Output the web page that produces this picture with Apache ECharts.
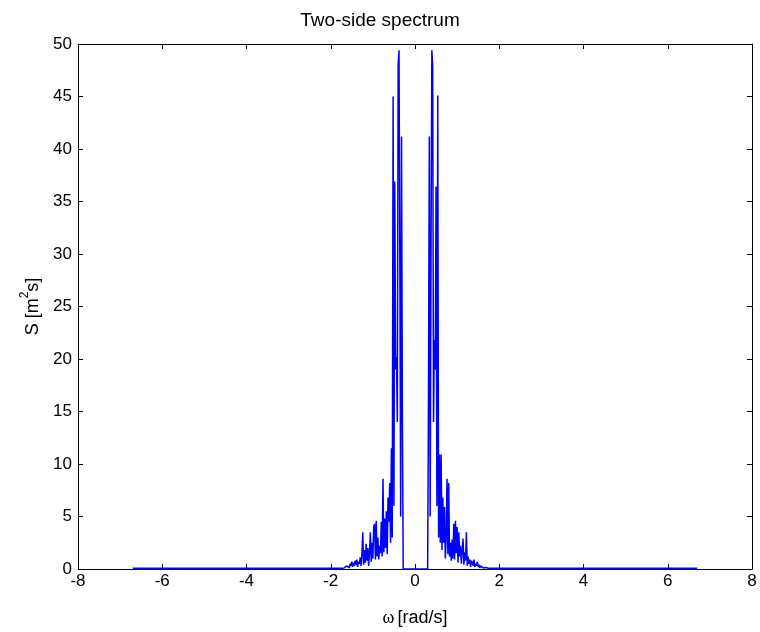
<!DOCTYPE html>
<html>
<head>
<meta charset="utf-8">
<script src="https://cdn.jsdelivr.net/npm/echarts@6/dist/echarts.min.js"></script>
<style>
  html, body { margin: 0; padding: 0; background: #fff; }
  #main { width: 760px; height: 632px; }
</style>
</head>
<body>
<div id="main"></div>
<script>
// flat tails of the spectrum (rad/s, m^2 s)
var tailOmega = [-6.7, -1.74, 1.74, 6.7];
var tailVals = [0.08, 0.08, 0.08, 0.08];

// negative side, omega = -1.70 ... -0.30 step 0.02
var negStart = -1.70;
var step = 0.02;
var negVals = [
    0.05, 0.1, 0.2, 0.1, 0.3, 0.2, 0.4, 0.1, 0.5, 0.3,
    0.7, 0.2, 0.6, 0.3, 0.8, 0.4, 0.9, 0.2, 0.7, 0.5,
    1.1, 0.3, 1.4, 3.5, 0.4, 1.8, 0.6, 2.4, 0.8, 2.0,
    0.3, 1.6, 3.5, 0.7, 2.5, 1.0, 4.0, 4.3, 0.9, 4.6,
    1.2, 3.0, 0.9, 2.2, 1.5, 4.5, 1.2, 8.6, 1.6, 4.8,
    2.0, 5.5, 1.4, 6.8, 4.5, 8.2, 2.5, 11.5, 3.0, 45.0,
    6.0, 36.9, 19.0, 20.2, 14.0, 48.0, 49.4, 30.0, 5.0, 41.2,
    15.0, 0
];

// positive side, omega = 0.30 ... 1.70 step 0.02
var posStart = 0.30;
var posVals = [
    0, 16.0, 41.2, 5.0, 30.0, 49.4, 47.9, 14.0, 21.8, 19.0,
    36.4, 6.0, 45.1, 3.0, 10.9, 2.5, 10.9, 1.8, 6.8, 2.5,
    5.9, 1.0, 3.0, 8.6, 1.4, 8.2, 1.2, 2.5, 0.8, 2.8,
    1.0, 4.3, 0.9, 4.6, 1.5, 4.0, 0.6, 3.5, 1.2, 2.2,
    0.5, 1.8, 2.9, 0.4, 1.6, 0.8, 3.5, 0.3, 1.2, 0.5,
    0.9, 0.2, 0.8, 0.6, 0.3, 0.9, 0.2, 0.5, 0.3, 0.7,
    0.2, 0.4, 0.1, 0.3, 0.2, 0.4, 0.1, 0.2, 0.1, 0.15,
    0.05
];

var xTicks = { min: -8, max: 8, interval: 2 };
var yTicks = { min: 0, max: 50, interval: 5 };

var points = [];
points.push([tailOmega[0], tailVals[0]]);
points.push([tailOmega[1], tailVals[1]]);
for (var i = 0; i < negVals.length; i++) {
    points.push([+(negStart + i * step).toFixed(2), negVals[i]]);
}
for (var j = 0; j < posVals.length; j++) {
    points.push([+(posStart + j * step).toFixed(2), posVals[j]]);
}
points.push([tailOmega[2], tailVals[2]]);
points.push([tailOmega[3], tailVals[3]]);

var myChart = echarts.init(document.getElementById('main'));
var font = 'Liberation Sans, Arial, Helvetica, sans-serif';
var tick = { show: true, inside: true, length: 5, lineStyle: { color: '#000', width: 1 } };
var line = { show: true, onZero: false, lineStyle: { color: '#000', width: 1 } };

var option = {
    backgroundColor: '#fff',
    animation: false,
    title: {
        text: 'Two-side spectrum',
        left: 'center',
        top: 6,
        textStyle: { fontFamily: font, fontSize: 19, fontWeight: 'normal', color: '#000' }
    },
    grid: { left: 78, right: 8, top: 44, bottom: 58 },
    xAxis: [
        {
            type: 'value',
            min: xTicks.min, max: xTicks.max, interval: xTicks.interval,
            position: 'bottom',
            axisLine: line, axisTick: tick,
            splitLine: { show: false },
            axisLabel: { margin: 4, fontFamily: font, fontSize: 17, color: '#000' },
            name: '{w|ω} {t|[rad/s]}',
            nameLocation: 'middle',
            nameGap: 40,
            nameTextStyle: {
                rich: {
                    w: { fontFamily: 'Liberation Serif, Times New Roman, serif', fontSize: 18, color: '#000' },
                    t: { fontFamily: font, fontSize: 18, color: '#000' }
                }
            }
        },
        {
            type: 'value',
            min: xTicks.min, max: xTicks.max, interval: xTicks.interval,
            position: 'top',
            axisLine: line, axisTick: tick,
            splitLine: { show: false },
            axisLabel: { show: false }
        }
    ],
    yAxis: [
        {
            type: 'value',
            min: yTicks.min, max: yTicks.max, interval: yTicks.interval,
            position: 'left',
            axisLine: line, axisTick: tick,
            splitLine: { show: false },
            axisLabel: { margin: 6, fontFamily: font, fontSize: 17, color: '#000' },
            name: '{t|S [m}{s|2}{t|s]}',
            nameLocation: 'middle',
            nameGap: 34,
            nameRotate: 90,
            nameTextStyle: {
                rich: {
                    t: { fontFamily: font, fontSize: 18, color: '#000', verticalAlign: 'bottom', lineHeight: 24 },
                    s: { fontFamily: font, fontSize: 12, color: '#000', verticalAlign: 'top', lineHeight: 24 }
                }
            }
        },
        {
            type: 'value',
            min: yTicks.min, max: yTicks.max, interval: yTicks.interval,
            position: 'right',
            axisLine: line, axisTick: tick,
            splitLine: { show: false },
            axisLabel: { show: false }
        }
    ],
    series: [
        {
            type: 'line',
            xAxisIndex: 0,
            yAxisIndex: 0,
            data: points,
            showSymbol: false,
            symbol: 'none',
            lineStyle: { color: '#0000ff', width: 1.5 },
            z: 1
        }
    ]
};

myChart.setOption(option);
</script>
</body>
</html>
